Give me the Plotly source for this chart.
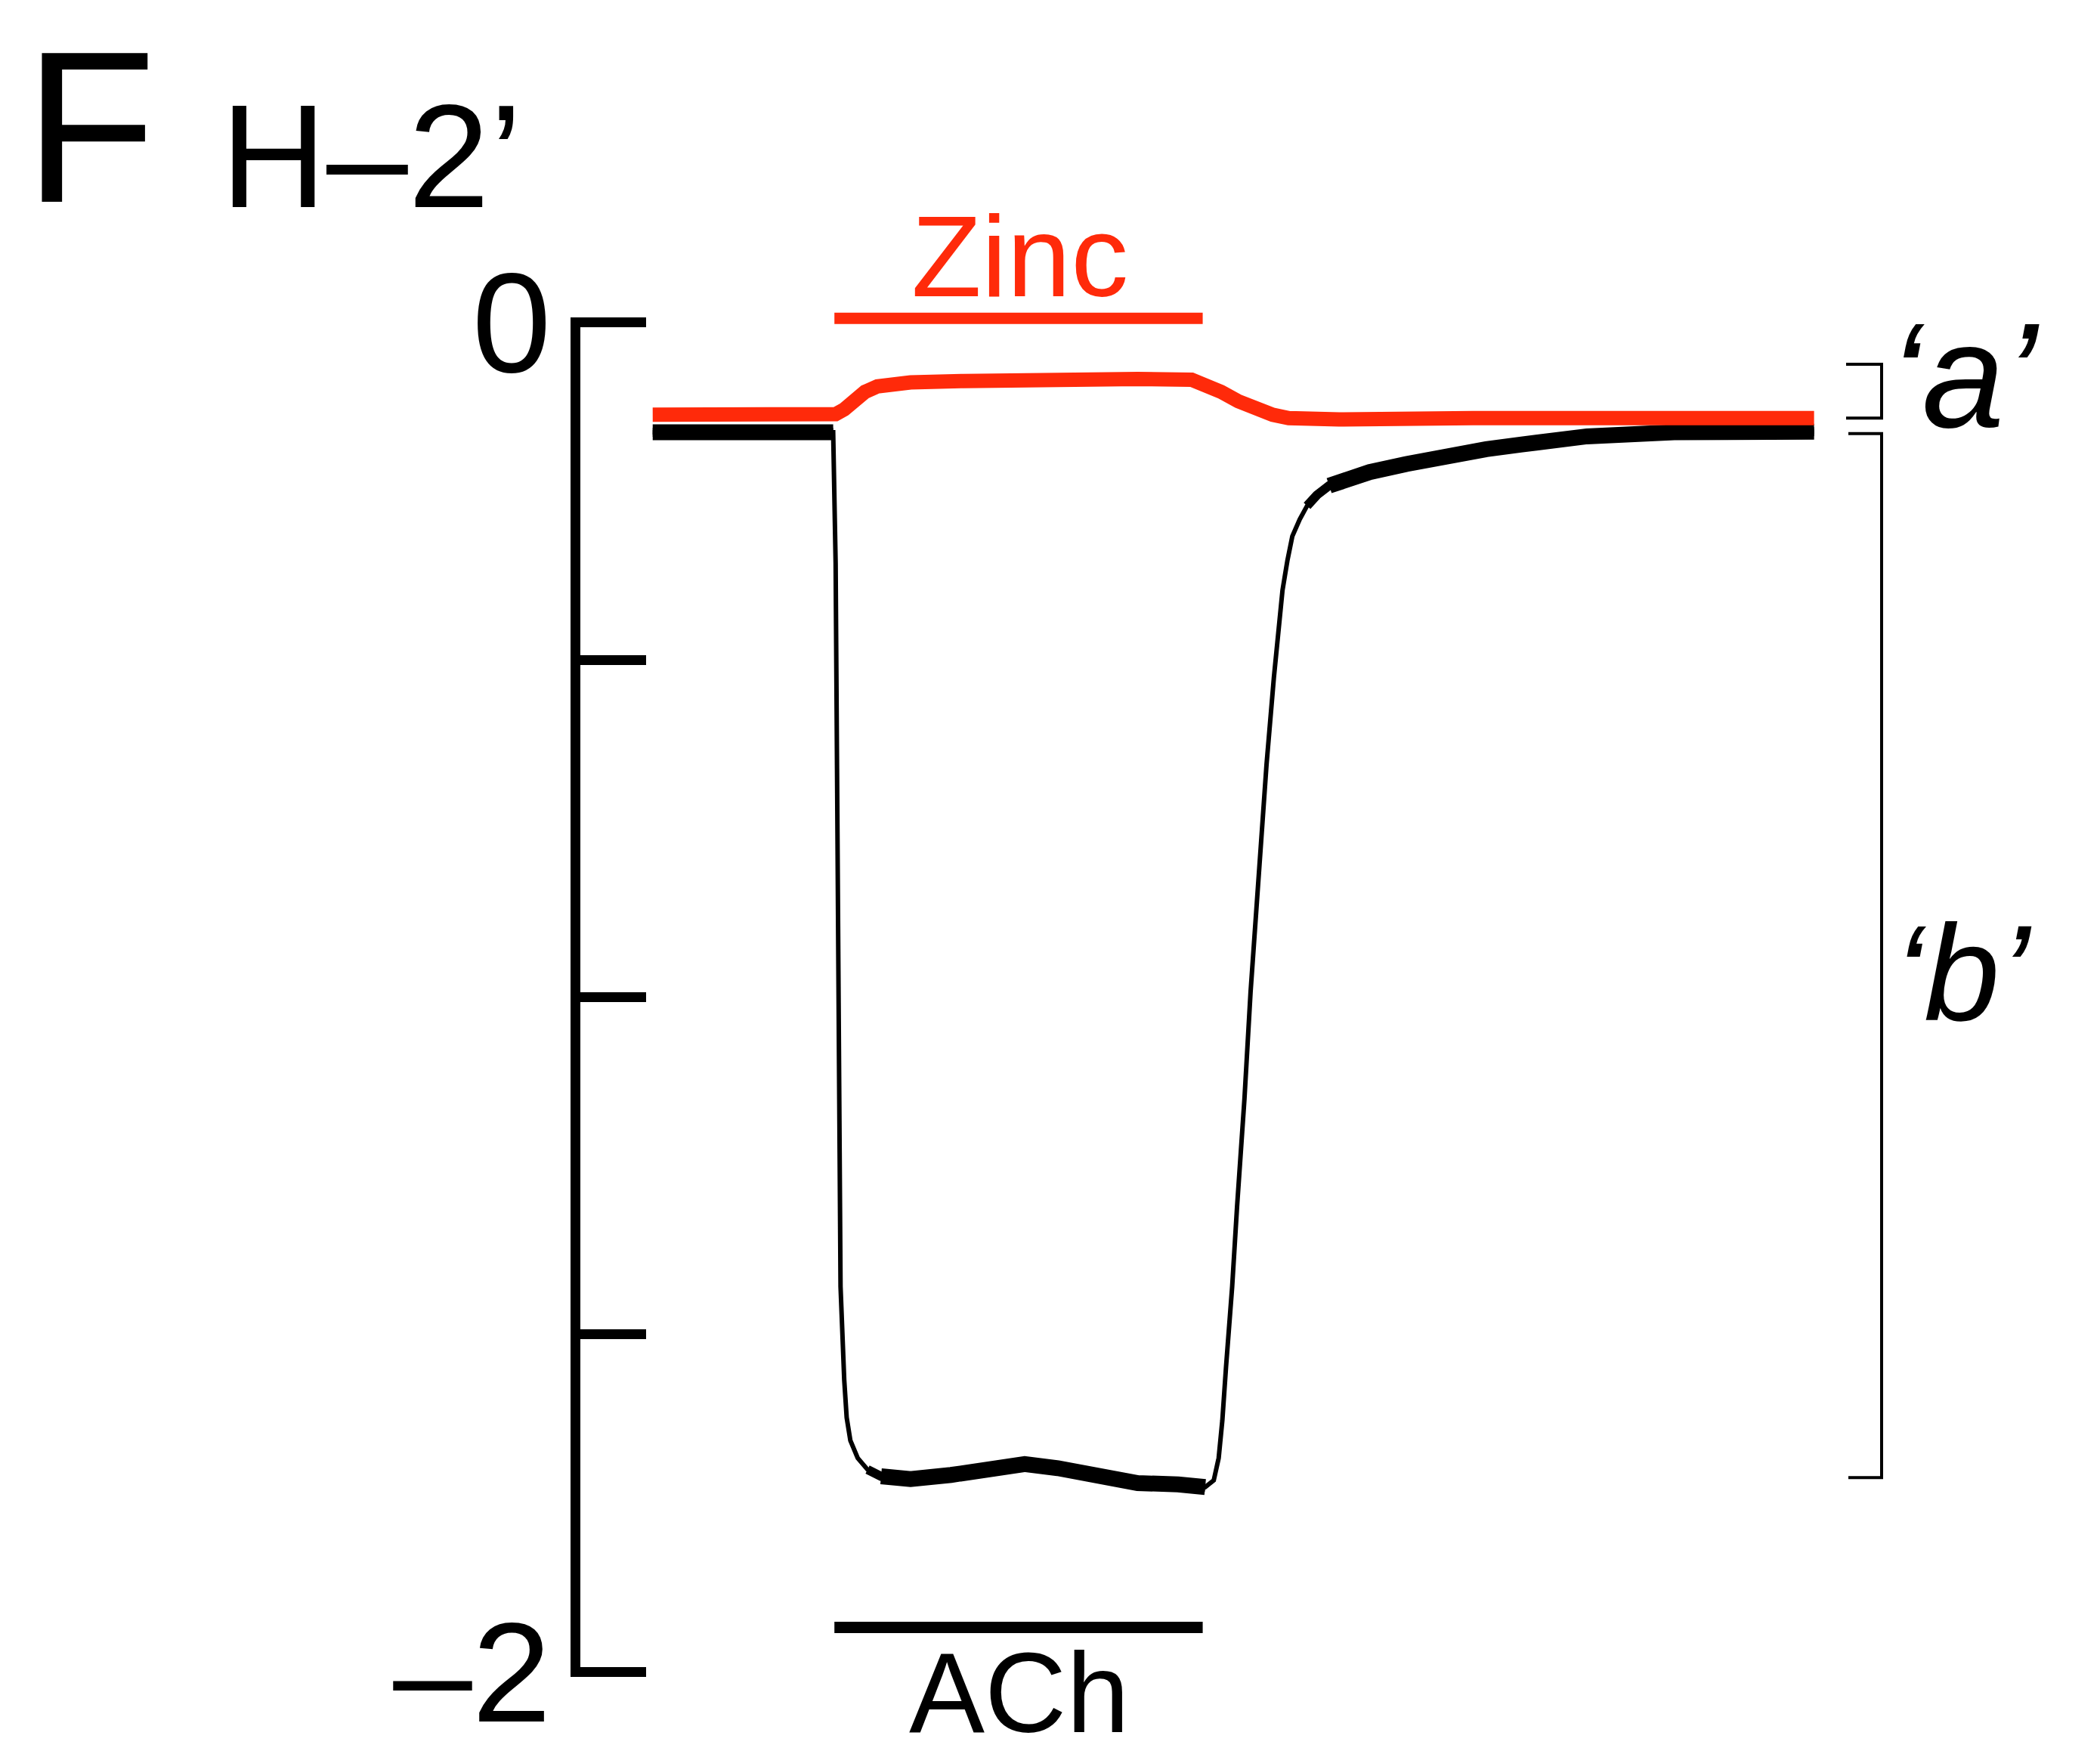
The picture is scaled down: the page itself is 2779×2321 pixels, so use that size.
import numpy as np
import plotly.graph_objects as go

# ---------------- data ----------------
# time in s (ACh / zinc applied from 15 s to 45 s), current in µA
black_t = [0.2, 4.9, 10.3, 14.1, 14.9, 15.1, 15.3, 15.5, 15.8, 16.0, 16.3, 16.9,
           17.7, 18.8, 21.2, 24.5, 27.8, 30.5, 33.2, 36.5, 39.7, 43.0, 45.2, 45.9,
           46.3, 46.6, 46.9, 47.4, 47.8, 48.4, 48.9, 49.6, 50.2, 50.8, 51.2, 51.5,
           51.9, 52.3, 52.9, 53.5, 54.3, 55.3, 56.7, 58.6, 61.6, 64.8, 68.1, 71.0,
           76.3, 83.4, 88.8, 94.8]
black_v = [-0.163, -0.164, -0.163, -0.164, -0.163, -0.357, -0.913, -1.429, -1.567,
           -1.623, -1.657, -1.683, -1.700, -1.710, -1.714, -1.708, -1.698, -1.692,
           -1.698, -1.712, -1.720, -1.722, -1.726, -1.716, -1.683, -1.627, -1.548,
           -1.429, -1.310, -1.151, -0.992, -0.813, -0.655, -0.526, -0.456, -0.397,
           -0.353, -0.317, -0.292, -0.272, -0.256, -0.242, -0.232, -0.222, -0.210,
           -0.198, -0.188, -0.181, -0.169, -0.163, -0.162, -0.162]

red_t = [0.2, 6.0, 12.5, 14.9, 15.1, 15.8, 16.6, 17.5, 18.5, 19.6, 21.2, 25.5,
         29.9, 34.3, 39.7, 44.1, 45.2, 46.5, 47.9, 49.4, 50.7, 52.0, 53.4, 56.1,
         67.0, 77.9, 88.8, 94.8]
red_v = [-0.137, -0.136, -0.137, -0.137, -0.136, -0.129, -0.114, -0.103, -0.095,
         -0.091, -0.089, -0.087, -0.085, -0.084, -0.084, -0.085, -0.091, -0.103,
         -0.117, -0.129, -0.137, -0.142, -0.144, -0.144, -0.142, -0.143, -0.142,
         -0.142]

zinc_on_off = [15, 45]
ach_on_off = [15, 45]
zinc_bar_level = 0.006
ach_bar_level = -1.934

a_bracket = [-0.062, -0.142]   # 'a' amplitude (zinc alone)
b_bracket = [-0.165, -1.712]   # 'b' amplitude (ACh)

y_tick_vals = [0, -0.5, -1, -1.5, -2]
y_tick_text = ["0", "", "", "", "\u20132"]

# ---------------- layout geometry ----------------
W, H = 2779, 2321
ML, MR, MT, MB = 768, 0, 420, 102
PW, PH = W - ML - MR, H - MT - MB
XMIN, XMAX = -5.694, 118.09
YMIN, YMAX = -2.0073, 0.0073
FONT = "Liberation Sans, Arial, Helvetica, sans-serif"
RED = "#ff2a0a"


def px_x(px):
    return (px - ML) / PW


def px_y(py):
    return (H - MB - py) / PH


def val_to_paper(v):
    return (v - YMIN) / (YMAX - YMIN)


bt = np.array(black_t, dtype=float)
bv = np.array(black_v, dtype=float)
# noisy stretches of the recording are drawn as a thicker band
medium = (bt <= 14.9) | ((bt >= 17.7) & (bt <= 45.2)) | (bt >= 53.5)
thick = (bt <= 14.9) | ((bt >= 18.8) & (bt <= 45.2)) | (bt >= 55.3)

fig = go.Figure()
fig.add_trace(go.Scatter(x=black_t, y=black_v, mode="lines",
                         line=dict(color="black", width=6), hoverinfo="skip"))
fig.add_trace(go.Scatter(x=black_t, y=np.where(medium, bv, np.nan), mode="lines",
                         connectgaps=False, line=dict(color="black", width=12),
                         hoverinfo="skip"))
fig.add_trace(go.Scatter(x=black_t, y=np.where(thick, bv, np.nan), mode="lines",
                         connectgaps=False, line=dict(color="black", width=21),
                         hoverinfo="skip"))
fig.add_trace(go.Scatter(x=red_t, y=red_v, mode="lines",
                         line=dict(color=RED, width=19), hoverinfo="skip"))

shapes = []
# drug application bars
shapes.append(dict(type="line", xref="x", yref="paper",
                   x0=zinc_on_off[0], x1=zinc_on_off[1],
                   y0=val_to_paper(zinc_bar_level), y1=val_to_paper(zinc_bar_level),
                   line=dict(color=RED, width=15)))
shapes.append(dict(type="line", xref="x", yref="paper",
                   x0=ach_on_off[0], x1=ach_on_off[1],
                   y0=val_to_paper(ach_bar_level), y1=val_to_paper(ach_bar_level),
                   line=dict(color="black", width=15)))
# amplitude brackets
for (top, bot), x0 in ((a_bracket, 2443), (b_bracket, 2446)):
    xa, xb = px_x(x0), px_x(2490)
    shapes.append(dict(type="path", xref="paper", yref="y",
                       path=f"M {xa},{top} L {xb},{top} L {xb},{bot} L {xa},{bot}",
                       line=dict(color="black", width=4)))

annotations = [
    dict(text="F", x=px_x(30), y=px_y(168), xanchor="left", yanchor="middle",
         font=dict(size=286, color="black", family=FONT)),
    dict(text="H\u20132\u2019", x=px_x(290), y=px_y(207), xanchor="left", yanchor="middle",
         font=dict(size=194, color="black", family=FONT)),
    dict(text="Zinc", x=px_x(1349), y=px_y(339), xanchor="center", yanchor="middle",
         font=dict(size=152, color=RED, family=FONT)),
    dict(text="ACh", x=px_x(1349), y=px_y(2240), xanchor="center", yanchor="middle",
         font=dict(size=150, color="black", family=FONT)),
    dict(text="<i>\u2018a\u2019</i>", x=px_x(2600), y=px_y(498), xanchor="center",
         yanchor="middle", font=dict(size=196, color="black", family=FONT)),
    dict(text="<i>\u2018b\u2019</i>", x=px_x(2597), y=px_y(1287), xanchor="center",
         yanchor="middle", font=dict(size=180, color="black", family=FONT)),
]
for a in annotations:
    a.update(xref="paper", yref="paper", showarrow=False)

fig.update_layout(
    width=W, height=H,
    margin=dict(l=ML, r=MR, t=MT, b=MB, pad=0),
    paper_bgcolor="white", plot_bgcolor="white",
    showlegend=False,
    shapes=shapes,
    annotations=annotations,
    xaxis=dict(range=[XMIN, XMAX], visible=False, fixedrange=True),
    yaxis=dict(range=[YMIN, YMAX], showgrid=False, zeroline=False,
               showline=True, linecolor="black", linewidth=13,
               ticks="inside", ticklen=87, tickwidth=13, tickcolor="black",
               tickmode="array", tickvals=y_tick_vals, ticktext=y_tick_text,
               tickfont=dict(size=188, color="black", family=FONT),
               ticklabelstandoff=-12, fixedrange=True),
)

fig.write_html("out.html")
